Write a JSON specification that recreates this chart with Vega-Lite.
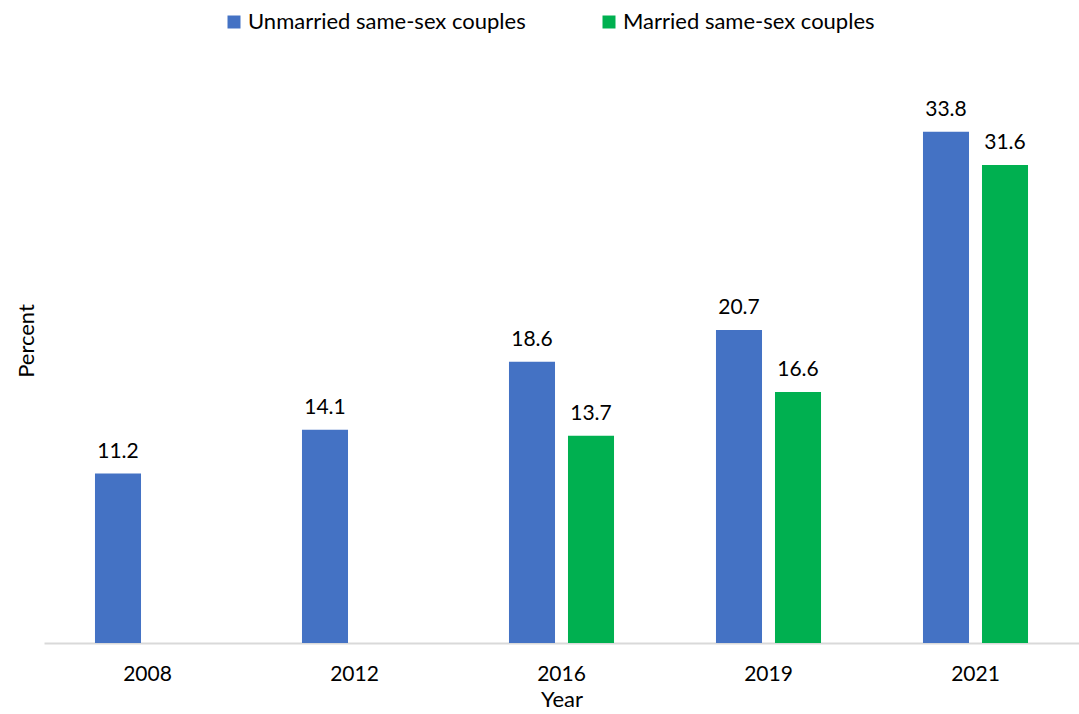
{
  "$schema": "https://vega.github.io/schema/vega-lite/v6.json",
  "autosize": "none",
  "width": 1035,
  "height": 605,
  "padding": {"left": 44, "top": 38, "right": 0, "bottom": 71},
  "background": "white",
  "config": {
    "view": {"stroke": null},
    "font": "Lato",
    "text": {"font": "Lato"}
  },
  "data": {
    "values": [
      {"Year": "2008", "Type": "Unmarried same-sex couples", "Percent": 11.2},
      {"Year": "2012", "Type": "Unmarried same-sex couples", "Percent": 14.1},
      {"Year": "2016", "Type": "Unmarried same-sex couples", "Percent": 18.6},
      {"Year": "2016", "Type": "Married same-sex couples", "Percent": 13.7},
      {"Year": "2019", "Type": "Unmarried same-sex couples", "Percent": 20.7},
      {"Year": "2019", "Type": "Married same-sex couples", "Percent": 16.6},
      {"Year": "2021", "Type": "Unmarried same-sex couples", "Percent": 33.8},
      {"Year": "2021", "Type": "Married same-sex couples", "Percent": 31.6}
    ]
  },
  "encoding": {
    "x": {
      "field": "Year", "type": "nominal", "sort": ["2008", "2012", "2016", "2019", "2021"],
      "scale": {"paddingInner": 0, "paddingOuter": 0},
      "axis": {
        "title": "Year", "labelAngle": 0, "labelFontSize": 21, "labelColor": "#000000",
        "labelPadding": 20, "ticks": false, "domainColor": "#d9d9d9", "domainWidth": 2,
        "titleFontSize": 22, "titleFontWeight": "normal", "titleColor": "#000000", "titlePadding": 5
      }
    },
    "xOffset": {
      "field": "Type", "type": "nominal",
      "sort": ["Unmarried same-sex couples", "Married same-sex couples"],
      "scale": {"paddingInner": 0.22, "paddingOuter": 0.864}
    },
    "y": {
      "field": "Percent", "type": "quantitative",
      "scale": {"domain": [0, 40]},
      "axis": {
        "title": "Percent", "labels": false, "ticks": false, "domain": false, "grid": false,
        "titleFontSize": 22, "titleFontWeight": "normal", "titleColor": "#000000", "titlePadding": 6
      }
    }
  },
  "layer": [
    {
      "mark": {"type": "bar"},
      "encoding": {
        "color": {
          "field": "Type", "type": "nominal",
          "sort": ["Unmarried same-sex couples", "Married same-sex couples"],
          "scale": {"domain": ["Unmarried same-sex couples", "Married same-sex couples"], "range": ["#4472C4", "#00B050"]},
          "legend": {
            "title": null, "orient": "none", "direction": "horizontal",
            "legendX": 179, "legendY": -27,
            "symbolType": "square", "symbolSize": 169, "symbolStrokeWidth": 0,
            "labelFontSize": 22, "labelColor": "#000000", "labelLimit": 0,
            "columnPadding": 72, "labelOffset": 3
          }
        }
      }
    },
    {
      "mark": {"type": "text", "baseline": "bottom", "dy": -12, "fontSize": 21, "color": "#000000"},
      "encoding": {
        "text": {"field": "Percent", "type": "quantitative", "format": ".1f"}
      }
    }
  ]
}
